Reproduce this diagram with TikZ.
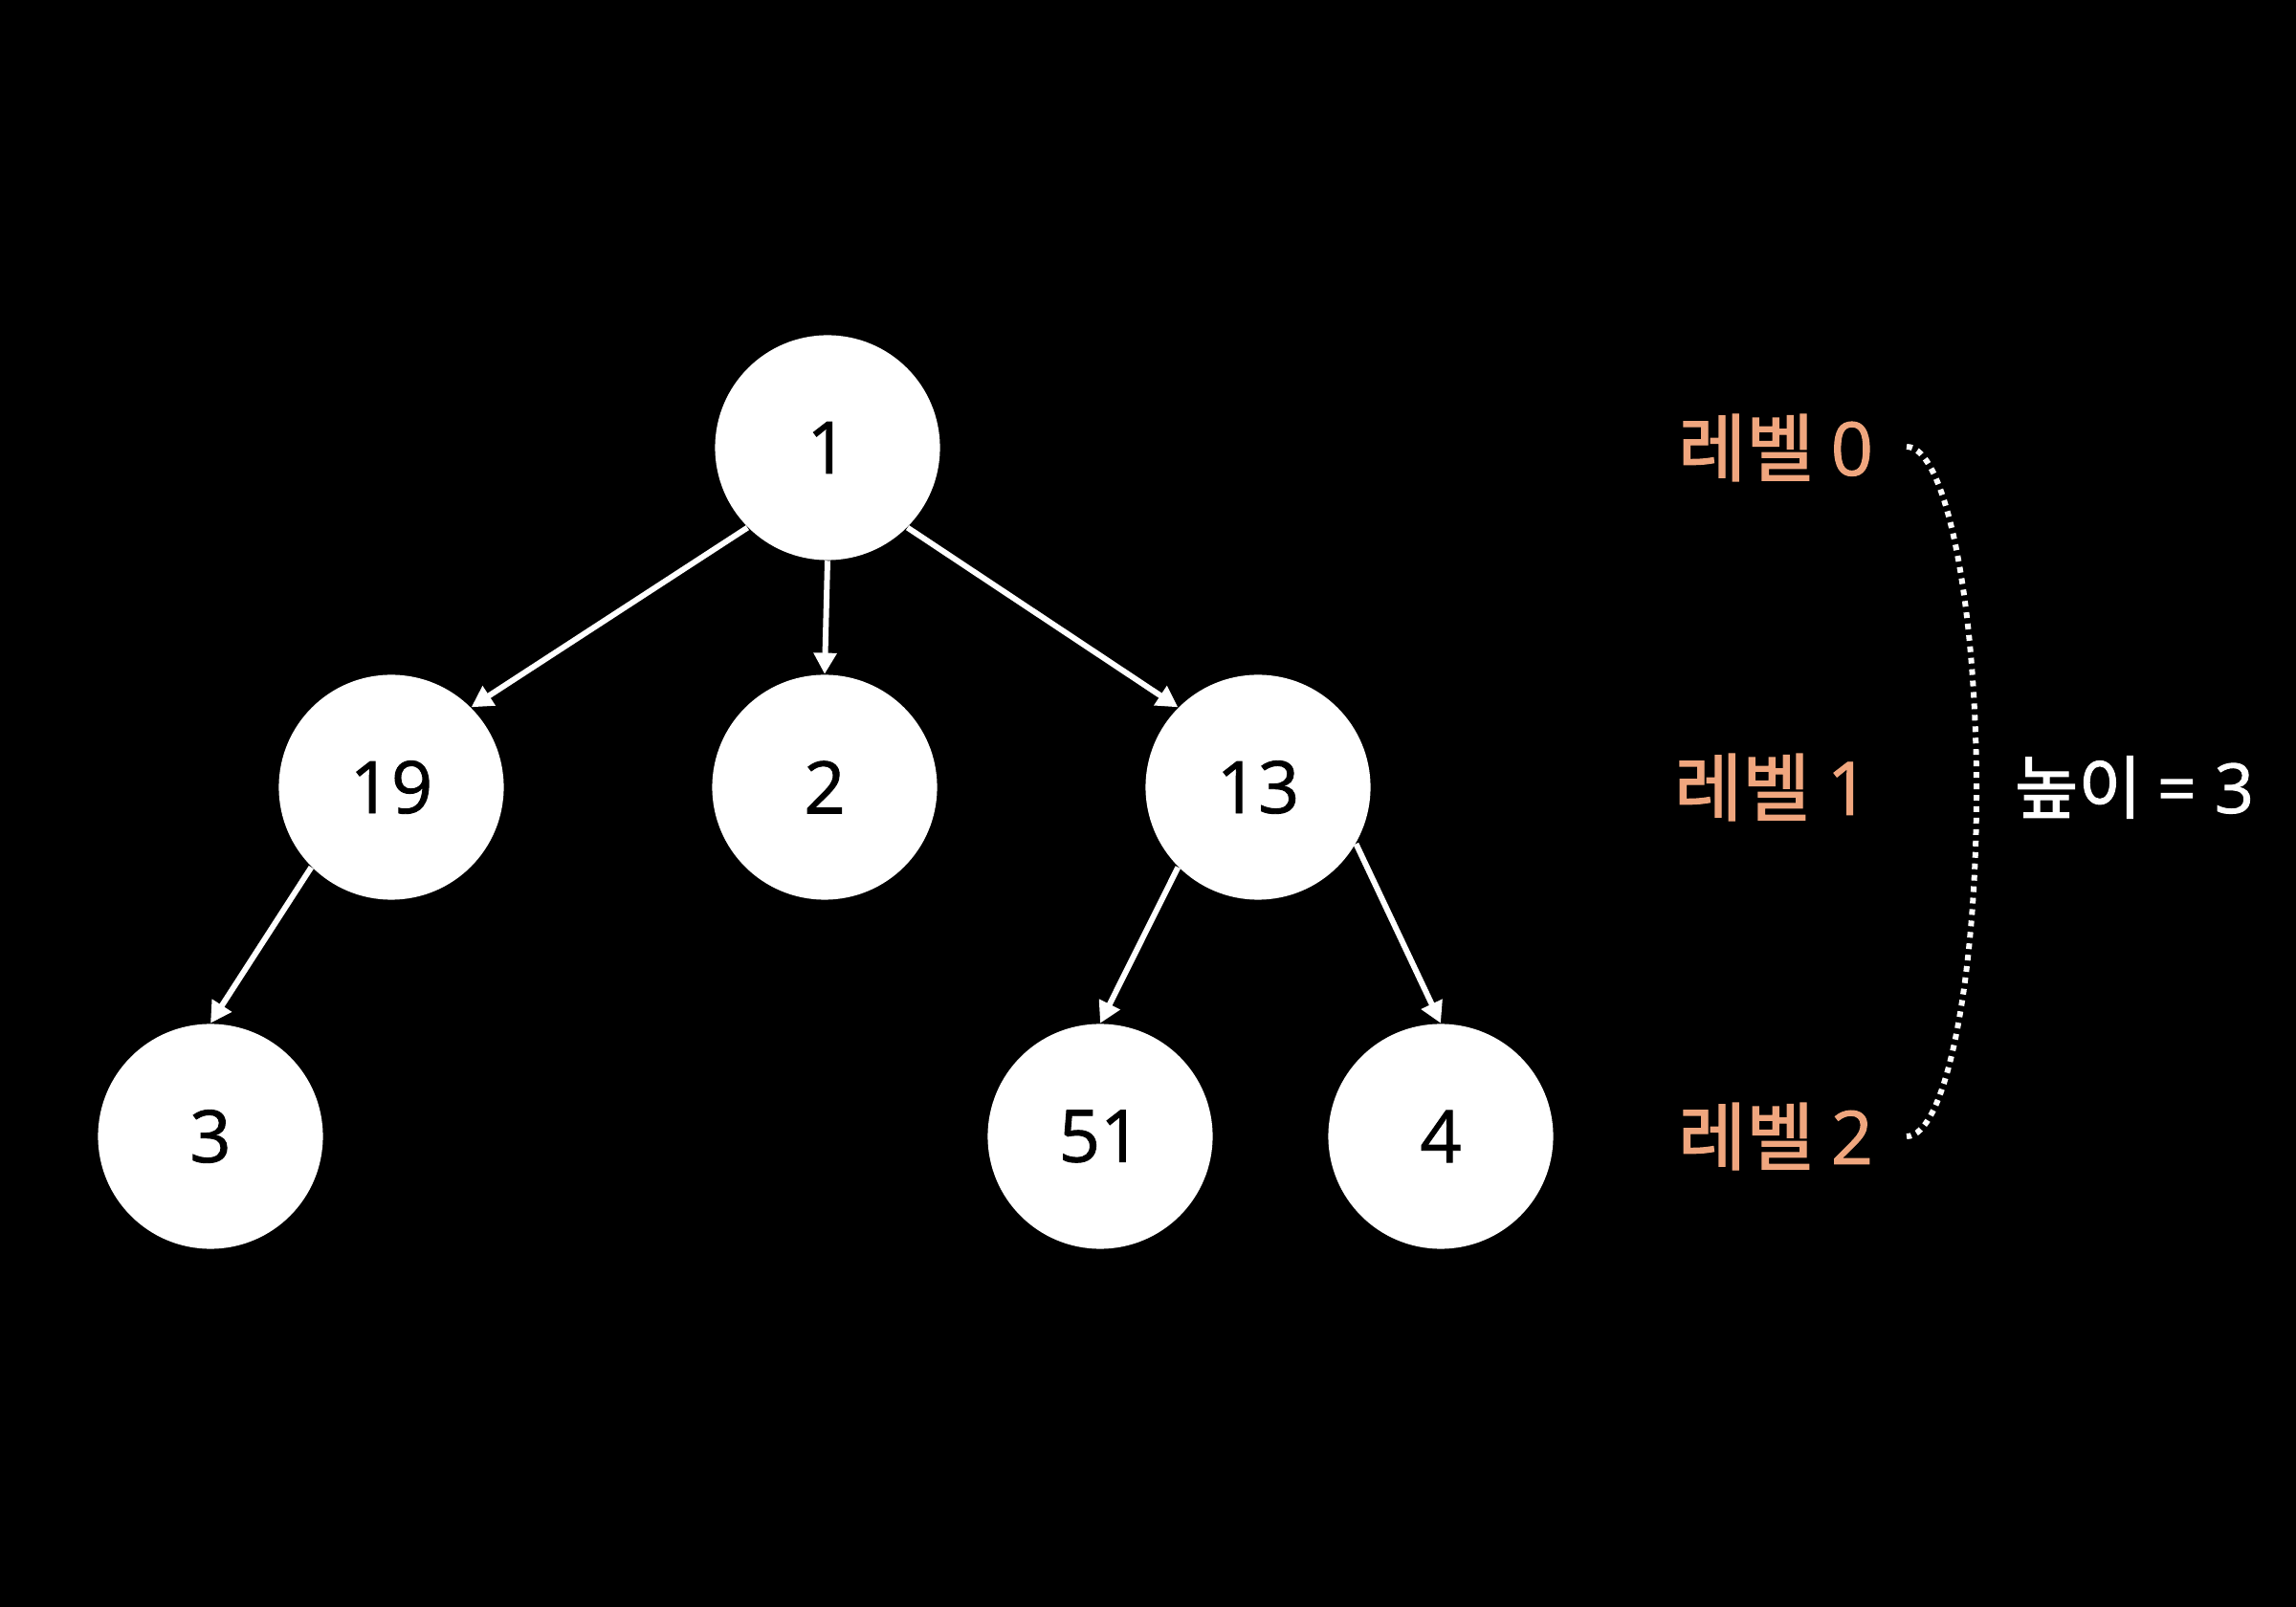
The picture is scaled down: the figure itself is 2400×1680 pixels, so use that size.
\documentclass[tikz,border=0pt]{standalone}
\usepackage{fontspec}
\setmainfont{Noto Sans CJK KR}
\newfontfamily\mfont{Noto Sans CJK KR}[FakeBold=1.6]
\newfontfamily\dfont{Open Sans}[FakeBold=1.2]
\usetikzlibrary{arrows.meta}
\definecolor{peach}{HTML}{F0A67E}
\tikzset{
  tnode/.style={circle, fill=white, draw=none, minimum size=2.35cm, inner sep=0pt, font=\dfont\fontsize{21.5}{24}\selectfont, text=black},
  edge/.style={draw=white, line width=1.7pt, -{Triangle[length=6.3pt, width=6.6pt]}},
  lvl/.style={font=\mfont\fontsize{22}{26}\selectfont, text=peach},
  hgt/.style={font=\mfont\fontsize{20.5}{26}\selectfont, text=white},
}
\begin{document}
\begin{tikzpicture}[x=0.01cm, y=-0.01cm]
\fill[black] (0,0) rectangle (2400,1680);
\useasboundingbox (0,0) rectangle (2400,1680);
\node[tnode] (n1) at (865,468) {1};
\node[tnode] (n19) at (409,823) {19};
\node[tnode] (n2) at (862,823) {2};
\node[tnode] (n13) at (1315,823) {13};
\node[tnode] (n3) at (220,1188) {3};
\node[tnode] (n51) at (1150,1188) {51};
\node[tnode] (n4) at (1506,1188) {4};
\draw[edge] (n1.south west) -- (n19.north east);
\draw[edge] (n1.south) -- (n2.north);
\draw[edge] (n1.south east) -- (n13.north west);
\draw[edge] (n19.south west) -- (n3.north);
\draw[edge] (n13.south west) -- (n51.north);
\draw[edge] (n13.-30) -- (n4.north);
\node[lvl] (l0) at (1856,468) {레벨 {\dfont 0}};
\node[lvl] (l1) at (1852,823) {레벨 {\dfont 1}};
\node[lvl] (l2) at (1856,1188) {레벨 {\dfont 2}};
\node[hgt] (h) at (2231,823) {높이 {\dfont = 3}};
\coordinate (c0) at (1993,467);
\coordinate (c2) at (1993,1188);
\draw[white, line width=1.7pt, dash pattern=on 1.7pt off 1.7pt] (c0) arc[start angle=90, end angle=-90, x radius=73, y radius=-360.5];
\end{tikzpicture}
\end{document}
